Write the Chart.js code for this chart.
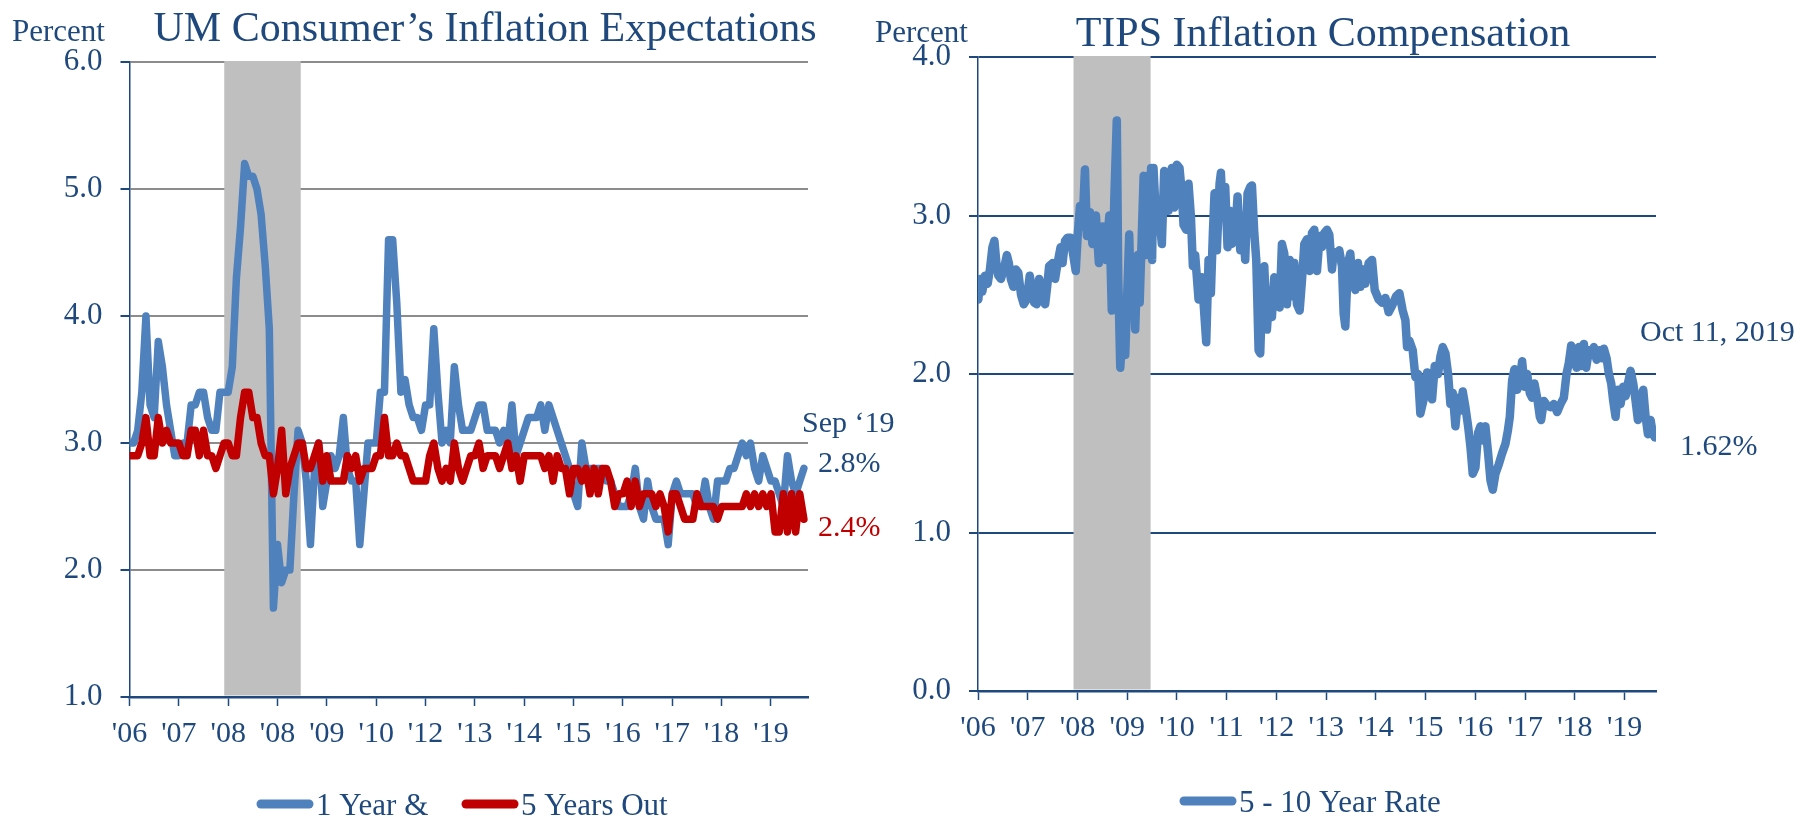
<!DOCTYPE html>
<html lang="en">
<head>
<meta charset="utf-8">
<title>Inflation Expectations</title>
<script src="https://cdn.jsdelivr.net/npm/chart.js@4.4.1/dist/chart.umd.min.js"></script>
<style>
    html, body { margin: 0; background: #fff; }
    body { width: 1806px; height: 818px; position: relative; overflow: hidden; }
    canvas { position: absolute; top: 0; }
    #umChart { left: 0; }
    #tipsChart { left: 860px; }
</style>
</head>
<body>
<canvas id="umChart" width="900" height="818"></canvas>
<canvas id="tipsChart" width="946" height="818"></canvas>
<script>
// Year ticks and their labels (the UM panel repeats '08 and skips '11, as in the source)
const yearTicks = [2006, 2007, 2008, 2009, 2010, 2011, 2012, 2013, 2014, 2015, 2016, 2017, 2018, 2019];
const umYearLabels = ["'06", "'07", "'08", "'08", "'09", "'10", "'12", "'13", "'14", "'15", "'16", "'17", "'18", "'19"];
const tipsYearLabels = ["'06", "'07", "'08", "'09", "'10", "'11", "'12", "'13", "'14", "'15", "'16", "'17", "'18", "'19"];

// Recession: Dec 2007 - Jun 2009
const recession = [2007.92, 2009.47];

// UM survey, monthly from Jan 2006 to Sep 2019
const umFirstYear = 2006;
const oneYearAhead = [
    3.0, 3.0, 3.1, 3.4, 4.0, 3.3, 3.2, 3.8, 3.6, 3.3, 3.1, 2.9,
    2.9, 3.0, 3.0, 3.3, 3.3, 3.4, 3.4, 3.2, 3.1, 3.1, 3.4, 3.4,
    3.4, 3.6, 4.3, 4.7, 5.2, 5.1, 5.1, 5.0, 4.8, 4.4, 3.9, 1.7,
    2.2, 1.9, 2.0, 2.0, 2.6, 3.1, 3.0, 2.7, 2.2, 2.8, 3.0, 2.5,
    2.7, 2.9, 2.8, 2.9, 3.2, 2.8, 2.7, 2.7, 2.2, 2.6, 3.0, 3.0,
    3.0, 3.4, 3.4, 4.6, 4.6, 4.1, 3.4, 3.5, 3.3, 3.2, 3.2, 3.1,
    3.3, 3.3, 3.9, 3.4, 3.0, 3.1, 3.0, 3.6, 3.3, 3.1, 3.1, 3.1,
    3.2, 3.3, 3.3, 3.1, 3.1, 3.1, 3.0, 3.1, 3.0, 3.3, 2.9, 3.0,
    3.1, 3.2, 3.2, 3.2, 3.3, 3.1, 3.3, 3.2, 3.1, 3.0, 2.9, 2.8,
    2.6, 2.5, 3.0, 2.8, 2.8, 2.8, 2.8, 2.8, 2.7, 2.7, 2.6, 2.5,
    2.5, 2.5, 2.6, 2.8, 2.5, 2.4, 2.7, 2.5, 2.4, 2.4, 2.4, 2.2,
    2.6, 2.7, 2.6, 2.6, 2.6, 2.6, 2.5, 2.5, 2.7, 2.5, 2.4, 2.7,
    2.7, 2.7, 2.8, 2.8, 2.9, 3.0, 2.9, 3.0, 2.8, 2.7, 2.9, 2.8,
    2.7, 2.7, 2.6, 2.5, 2.9, 2.7, 2.6, 2.7, 2.8
];
const fiveYearsOut = [
    2.9, 2.9, 2.9, 3.0, 3.2, 2.9, 2.9, 3.2, 3.0, 3.1, 3.0, 3.0,
    3.0, 2.9, 2.9, 3.1, 3.1, 2.9, 3.1, 2.9, 2.9, 2.8, 2.9, 3.0,
    3.0, 2.9, 2.9, 3.2, 3.4, 3.4, 3.2, 3.2, 3.0, 2.9, 2.9, 2.6,
    2.8, 3.1, 2.6, 2.8, 2.9, 3.0, 3.0, 2.8, 2.8, 2.9, 3.0, 2.7,
    2.9, 2.7, 2.7, 2.7, 2.7, 2.9, 2.8, 2.9, 2.7, 2.8, 2.8, 2.8,
    2.9, 2.9, 3.2, 2.9, 2.9, 3.0, 2.9, 2.9, 2.8, 2.7, 2.7, 2.7,
    2.7, 2.9, 3.0, 2.8, 2.7, 2.8, 2.7, 3.0, 2.8, 2.7, 2.8, 2.9,
    2.9, 3.0, 2.8, 2.9, 2.9, 2.9, 2.8, 2.9, 3.0, 2.8, 2.9, 2.7,
    2.9, 2.9, 2.9, 2.9, 2.9, 2.8, 2.9, 2.7, 2.9, 2.8, 2.8, 2.6,
    2.8, 2.8, 2.7, 2.8, 2.6, 2.8, 2.6, 2.8, 2.8, 2.7, 2.5, 2.6,
    2.6, 2.7, 2.5, 2.7, 2.5, 2.6, 2.6, 2.6, 2.5, 2.6, 2.5, 2.3,
    2.6, 2.6, 2.5, 2.4, 2.4, 2.4, 2.6, 2.5, 2.5, 2.5, 2.5, 2.4,
    2.5, 2.5, 2.5, 2.5, 2.5, 2.5, 2.6, 2.5, 2.6, 2.5, 2.6, 2.5,
    2.6, 2.3, 2.3, 2.6, 2.3, 2.6, 2.3, 2.6, 2.4
];

// TIPS 5-10 year forward inflation compensation (dates as decimal years)
const tipsDates = [
    2006.007, 2006.040, 2006.087, 2006.140, 2006.195, 2006.240, 2006.290, 2006.330, 2006.370, 2006.410,
    2006.460, 2006.520, 2006.580, 2006.620, 2006.660, 2006.710, 2006.760, 2006.810, 2006.865, 2006.920,
    2006.980, 2007.040, 2007.080, 2007.130, 2007.180, 2007.230, 2007.280, 2007.350, 2007.390, 2007.430,
    2007.500, 2007.550, 2007.600, 2007.660, 2007.700, 2007.750, 2007.800, 2007.860, 2007.910, 2007.965,
    2008.005, 2008.050, 2008.100, 2008.150, 2008.190, 2008.250, 2008.300, 2008.370, 2008.430, 2008.500,
    2008.570, 2008.640, 2008.690, 2008.740, 2008.790, 2008.820, 2008.860, 2008.910, 2008.960, 2009.000,
    2009.040, 2009.080, 2009.120, 2009.160, 2009.210, 2009.250, 2009.290, 2009.330, 2009.370, 2009.410,
    2009.450, 2009.480, 2009.500, 2009.528, 2009.582, 2009.629, 2009.696, 2009.743, 2009.796, 2009.830,
    2009.897, 2009.944, 2009.998, 2010.051, 2010.098, 2010.132, 2010.185, 2010.232, 2010.279, 2010.320,
    2010.366, 2010.434, 2010.500, 2010.588, 2010.635, 2010.682, 2010.722, 2010.755, 2010.802, 2010.856,
    2010.883, 2010.923, 2010.970, 2011.017, 2011.057, 2011.104, 2011.171, 2011.218, 2011.272, 2011.326,
    2011.372, 2011.419, 2011.473, 2011.507, 2011.554, 2011.594, 2011.641, 2011.674, 2011.708, 2011.755,
    2011.808, 2011.862, 2011.909, 2011.956, 2012.010, 2012.063, 2012.110, 2012.157, 2012.211, 2012.264,
    2012.311, 2012.358, 2012.412, 2012.466, 2012.513, 2012.560, 2012.613, 2012.667, 2012.714, 2012.761,
    2012.814, 2012.868, 2012.915, 2012.962, 2013.016, 2013.062, 2013.116, 2013.150, 2013.217, 2013.264,
    2013.317, 2013.351, 2013.384, 2013.438, 2013.485, 2013.519, 2013.586, 2013.639, 2013.686, 2013.733,
    2013.787, 2013.854, 2013.921, 2013.975, 2014.055, 2014.122, 2014.190, 2014.256, 2014.323, 2014.404,
    2014.471, 2014.538, 2014.592, 2014.625, 2014.672, 2014.739, 2014.793, 2014.846, 2014.893, 2014.960,
    2015.028, 2015.075, 2015.128, 2015.182, 2015.249, 2015.296, 2015.343, 2015.397, 2015.450, 2015.497,
    2015.544, 2015.598, 2015.651, 2015.698, 2015.745, 2015.799, 2015.853, 2015.900, 2015.946, 2016.000,
    2016.054, 2016.101, 2016.148, 2016.201, 2016.255, 2016.302, 2016.349, 2016.402, 2016.470, 2016.537,
    2016.604, 2016.651, 2016.691, 2016.738, 2016.785, 2016.839, 2016.892, 2016.939, 2016.986, 2017.040,
    2017.093, 2017.140, 2017.187, 2017.241, 2017.295, 2017.321, 2017.375, 2017.442, 2017.509, 2017.576,
    2017.643, 2017.710, 2017.777, 2017.831, 2017.878, 2017.925, 2017.979, 2018.032, 2018.079, 2018.126,
    2018.180, 2018.227, 2018.281, 2018.327, 2018.381, 2018.435, 2018.482, 2018.535, 2018.582, 2018.636,
    2018.683, 2018.730, 2018.770, 2018.817, 2018.864, 2018.918, 2018.971, 2019.018, 2019.065, 2019.119,
    2019.173, 2019.220, 2019.266, 2019.320, 2019.374, 2019.421, 2019.468, 2019.521, 2019.568, 2019.608
];
const tipsRate = [
    2.47, 2.60, 2.52, 2.62, 2.57, 2.66, 2.80, 2.84, 2.70, 2.62,
    2.60, 2.66, 2.75, 2.70, 2.60, 2.55, 2.66, 2.64, 2.50, 2.44,
    2.47, 2.62, 2.55, 2.45, 2.44, 2.60, 2.52, 2.44, 2.55, 2.68,
    2.70, 2.60, 2.70, 2.80, 2.70, 2.84, 2.86, 2.86, 2.76, 2.65,
    2.88, 3.06, 2.93, 3.29, 2.87, 3.02, 2.82, 3.00, 2.70, 2.93,
    2.72, 3.00, 2.40, 3.10, 3.60, 2.60, 2.04, 2.30, 2.12, 2.50,
    2.88, 2.40, 2.70, 2.28, 2.75, 2.45, 2.85, 3.25, 2.75, 3.25,
    2.90, 3.30, 2.72, 3.30, 2.95, 3.05, 2.82, 3.28, 3.20, 3.03,
    3.30, 3.05, 3.32, 3.30, 3.14, 2.94, 2.91, 3.20, 3.00, 2.68,
    2.75, 2.47, 2.61, 2.20, 2.72, 2.51, 2.89, 3.14, 2.78, 3.20,
    3.27, 2.99, 3.18, 2.80, 3.03, 2.82, 2.89, 3.12, 2.78, 2.93,
    2.72, 3.14, 3.18, 3.19, 2.89, 2.72, 2.15, 2.13, 2.47, 2.68,
    2.28, 2.53, 2.36, 2.61, 2.57, 2.42, 2.82, 2.76, 2.44, 2.72,
    2.49, 2.70, 2.44, 2.40, 2.59, 2.82, 2.85, 2.65, 2.89, 2.91,
    2.65, 2.87, 2.80, 2.89, 2.91, 2.88, 2.66, 2.77, 2.75, 2.78,
    2.68, 2.38, 2.30, 2.70, 2.76, 2.61, 2.53, 2.70, 2.55, 2.66,
    2.57, 2.70, 2.72, 2.53, 2.47, 2.45, 2.48, 2.39, 2.43, 2.49,
    2.51, 2.40, 2.34, 2.17, 2.21, 2.15, 1.98, 2.00, 1.75, 1.84,
    2.01, 1.92, 1.84, 2.05, 2.00, 2.11, 2.17, 2.13, 2.00, 1.81,
    1.88, 1.67, 1.85, 1.77, 1.89, 1.79, 1.67, 1.54, 1.37, 1.41,
    1.63, 1.67, 1.58, 1.67, 1.50, 1.33, 1.27, 1.37, 1.43, 1.50,
    1.56, 1.64, 1.73, 1.96, 2.03, 1.90, 1.96, 2.08, 1.92, 2.00,
    1.88, 1.85, 1.94, 1.85, 1.73, 1.71, 1.83, 1.80, 1.79, 1.81,
    1.76, 1.81, 1.85, 2.00, 2.07, 2.18, 2.12, 2.04, 2.17, 2.05,
    2.19, 2.04, 2.15, 2.12, 2.17, 2.09, 2.15, 2.10, 2.16, 2.10,
    2.00, 1.94, 1.83, 1.73, 1.90, 1.81, 1.92, 1.86, 1.94, 2.02,
    1.94, 1.83, 1.71, 1.85, 1.90, 1.73, 1.62, 1.71, 1.62, 1.60
];

const SERIF = "'Liberation Serif', 'Times New Roman', serif";
const NAVY = '#1F497D';
const BLUE = '#4F81BD';
const RED = '#C00000';
const SHADE = '#BFBFBF';

// Recession band, titles, annotations and the legend
const decor = {
    id: 'decor',
    beforeDatasetsDraw(chart) {
        const { ctx, chartArea, scales } = chart;
        const x0 = scales.x.getPixelForValue(recession[0]);
        const x1 = scales.x.getPixelForValue(recession[1]);
        ctx.save();
        ctx.fillStyle = SHADE;
        ctx.fillRect(x0, chartArea.top - 1, x1 - x0, chartArea.bottom - chartArea.top - 0.5);
        ctx.restore();
    },
    afterDraw(chart, args, opts) {
        const ctx = chart.ctx;
        ctx.save();
        ctx.textBaseline = 'alphabetic';
        opts.texts.forEach(t => {
            ctx.font = `${t.size}px ${SERIF}`;
            ctx.fillStyle = t.color || NAVY;
            ctx.textAlign = t.align || 'left';
            ctx.fillText(t.text, t.x, t.y);
        });
        ctx.textAlign = 'left';
        ctx.font = `31px ${SERIF}`;
        opts.legend.forEach(item => {
            const ds = chart.data.datasets[item.dataset];
            ctx.strokeStyle = ds.borderColor;
            ctx.lineWidth = 9;
            ctx.lineCap = 'round';
            ctx.beginPath();
            ctx.moveTo(item.x + 4, item.y);
            ctx.lineTo(item.x + 52, item.y);
            ctx.stroke();
            ctx.fillStyle = NAVY;
            ctx.fillText(ds.label, item.x + 59, item.y + 11);
        });
        ctx.restore();
    }
};

function yearAxis(labels, max, height) {
    return {
        type: 'linear',
        min: 2006,
        max: max,
        afterBuildTicks: scale => { scale.ticks = yearTicks.map(value => ({ value })); },
        afterFit: scale => { scale.height = height; },
        ticks: {
            color: NAVY,
            font: { family: SERIF, size: 30 },
            padding: 10,
            autoSkip: false,
            maxRotation: 0,
            callback: (value, index) => labels[index]
        },
        grid: { drawOnChartArea: false, tickLength: 9, tickColor: NAVY, tickWidth: 1.5 },
        border: { color: NAVY, width: 2.5 }
    };
}

function valueAxis(min, max, width, gridColor) {
    return {
        min: min,
        max: max,
        afterFit: scale => { scale.width = width; },
        ticks: {
            stepSize: 1,
            color: NAVY,
            font: { family: SERIF, size: 31 },
            padding: 18,
            callback: value => value.toFixed(1)
        },
        grid: {
            color: c => c.tick && c.tick.value === min ? NAVY : gridColor,
            lineWidth: 2,
            tickLength: 9,
            tickColor: NAVY,
            tickWidth: 2
        },
        border: { color: NAVY, width: 1.5 }
    };
}

function initUmChart() {
    const ctx = document.getElementById('umChart');
    const toPoints = arr => arr.map((v, i) => ({ x: umFirstYear + i / 12, y: v }));
    new Chart(ctx, {
        type: 'line',
        data: {
            datasets: [
                { label: '1 Year &', data: toPoints(oneYearAhead), borderColor: BLUE, borderWidth: 7.5, order: 1 },
                { label: '5 Years Out', data: toPoints(fiveYearsOut), borderColor: RED, borderWidth: 7.5, order: 0 }
            ]
        },
        options: {
            responsive: false,
            animation: false,
            layout: { padding: { top: 62, right: 92, bottom: 0, left: 0 } },
            elements: {
                point: { radius: 0 },
                line: { tension: 0, borderJoinStyle: 'round', borderCapStyle: 'round' }
            },
            scales: {
                x: yearAxis(umYearLabels, 2006 + 165 / 12, 121),
                y: valueAxis(1, 6, 129.5, '#8C8C8C')
            },
            plugins: {
                legend: { display: false },
                tooltip: { enabled: false },
                decor: {
                    texts: [
                        { text: 'Percent', x: 12, y: 41, size: 31 },
                        { text: 'UM Consumer\u2019s Inflation Expectations', x: 485, y: 41, size: 42, align: 'center' },
                        { text: 'Sep \u201819', x: 802, y: 432, size: 30 },
                        { text: oneYearAhead[oneYearAhead.length - 1].toFixed(1) + '%', x: 818, y: 472, size: 30 },
                        { text: fiveYearsOut[fiveYearsOut.length - 1].toFixed(1) + '%', x: 818, y: 536, size: 30, color: RED }
                    ],
                    legend: [
                        { dataset: 0, x: 257, y: 804 },
                        { dataset: 1, x: 462, y: 804 }
                    ]
                }
            }
        },
        plugins: [decor]
    });
}

function initTipsChart() {
    const ctx = document.getElementById('tipsChart');
    new Chart(ctx, {
        type: 'line',
        data: {
            datasets: [{
                label: '5 - 10 Year Rate',
                data: tipsDates.map((d, i) => ({ x: d, y: tipsRate[i] })),
                borderColor: BLUE,
                borderWidth: 8.5
            }]
        },
        options: {
            responsive: false,
            animation: false,
            layout: { padding: { top: 57, right: 150, bottom: 0, left: 0 } },
            elements: {
                point: { radius: 0 },
                line: { tension: 0, borderJoinStyle: 'round', borderCapStyle: 'round' }
            },
            scales: {
                x: yearAxis(tipsYearLabels, 2019.63, 127),
                y: valueAxis(0, 4, 118, NAVY)
            },
            plugins: {
                legend: { display: false },
                tooltip: { enabled: false },
                decor: {
                    texts: [
                        { text: 'Percent', x: 15, y: 42, size: 31 },
                        { text: 'TIPS Inflation Compensation', x: 463, y: 46, size: 42, align: 'center' },
                        { text: 'Oct 11, 2019', x: 780, y: 341, size: 30 },
                        { text: '1.62%', x: 820, y: 455, size: 30 }
                    ],
                    legend: [{ dataset: 0, x: 320, y: 801 }]
                }
            }
        },
        plugins: [decor]
    });
}

document.addEventListener('DOMContentLoaded', () => {
    initUmChart();
    initTipsChart();
});
</script>
</body>
</html>
